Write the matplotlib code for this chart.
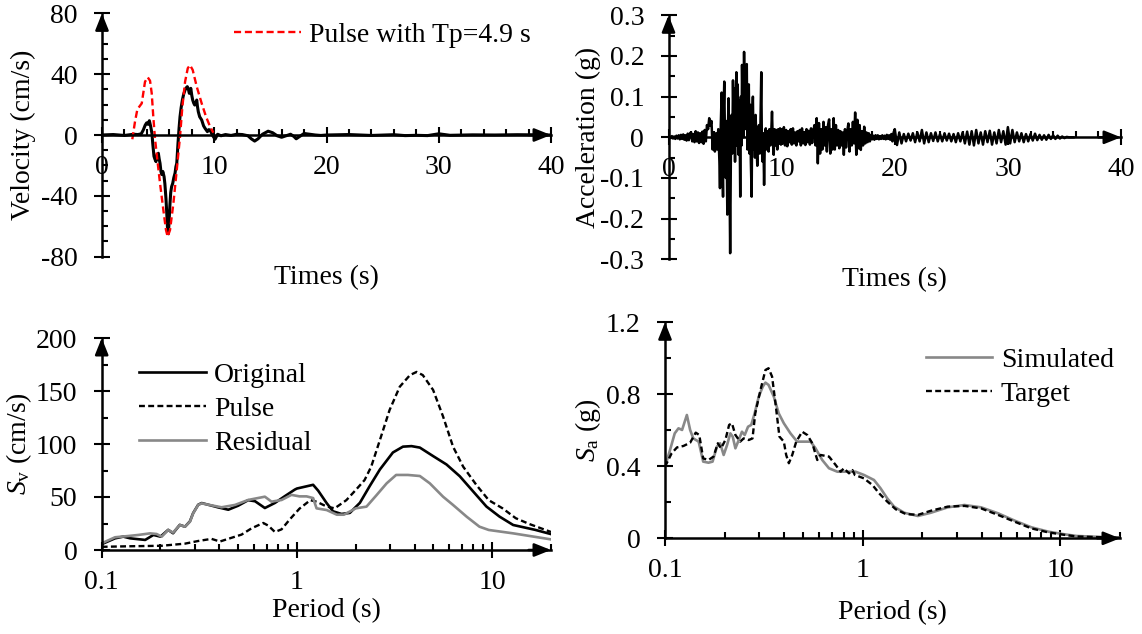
import numpy as np
import matplotlib
matplotlib.use('Agg')
import matplotlib.pyplot as plt
from matplotlib.ticker import MultipleLocator, FuncFormatter, LogLocator, NullFormatter

plt.rcParams['font.family'] = ['Liberation Serif', 'DejaVu Serif']
plt.rcParams['font.size'] = 20
plt.rcParams['axes.unicode_minus'] = False
plt.rcParams['mathtext.fontset'] = 'custom'
plt.rcParams['mathtext.rm'] = 'Liberation Serif'
plt.rcParams['mathtext.it'] = 'Liberation Serif:italic'

# ---- velocity time history (cm/s) ----
vel_time = [0, 1, 2, 2.8, 3.2, 3.5, 3.68, 3.85, 3.98, 4.1, 4.22, 4.34, 4.45, 4.52, 4.63,
            4.72, 4.81, 4.9, 5.02, 5.1, 5.17, 5.25, 5.32, 5.42, 5.53, 5.6, 5.64, 5.7,
            5.77, 5.85, 5.91, 5.97, 6.05, 6.12, 6.2, 6.3, 6.4, 6.51, 6.58, 6.66, 6.77,
            6.86, 6.95, 7.05, 7.16, 7.28, 7.4, 7.5, 7.6, 7.7, 7.78, 7.85, 7.91, 8.0,
            8.08, 8.17, 8.26, 8.35, 8.44, 8.5, 8.58, 8.7, 8.88, 9.05, 9.18, 9.39, 9.5,
            9.63, 9.83, 10.07, 10.3, 10.6, 11, 11.5, 12, 12.5, 13, 13.3, 13.6, 13.9,
            14.3, 14.8, 15.2, 15.6, 16, 16.4, 16.8, 17.1, 17.3, 17.6, 18, 18.5, 19,
            19.5, 20, 22, 24, 26, 27, 28, 29, 30, 31, 33, 35, 37, 40]
vel_record = [0, 0.3, -0.3, 0.5, 0.3, 0.8, 3.3, 6.5, 8, 7, 9.4, 5.5, 1, -5.5, -14,
              -16, -17.5, -13, -12, -16, -18.6, -24, -26, -24, -27.4, -32, -36, -42,
              -51.5, -63.6, -65, -58, -46, -38, -34, -31.8, -28, -25, -21, -18.6, -5.5,
              4, 12, 18, 23, 27, 29.6, 31, 31.8, 30, 27.4, 29, 30.7, 26,
              23, 21, 19.7, 21, 23, 19, 15.3, 12, 9.9, 6, 4.4, 2.2, 3.5,
              3.3, 0, -2.8, 0.5, -0.5, 0.3, -0.3, 0.5, 0.3, -0.5, -2.5, -4, -2.5,
              0.5, 2.5, 1.5, -0.5, -1.5, -0.5, 0.5, -1, -2.5, -1, 1, 0.5, 0,
              -0.3, 0, 0.3, -0.3, 0.2, -0.4, -0.2, -0.4, 0.8, -0.2, 0.1, 0, 0.2, 0]

pulse_time = [2.7, 2.94, 3.15, 3.54, 3.83, 4.07, 4.28, 4.43, 4.57, 4.72, 4.93, 5.17,
              5.46, 5.7, 5.85, 6.06, 6.36, 6.66, 6.95, 7.16, 7.4, 7.64, 7.84, 8.08,
              8.44, 8.88, 9.27, 9.63, 9.92]
pulse_vel = [-2.8, 8.8, 16.9, 20.8, 35, 38, 35.7, 27.4, 12, -2.2, -16.4, -31.8,
             -49, -62.5, -66.9, -62.5, -45, -23, -1.1, 18.6, 35, 43.9, 46, 42.8,
             31.8, 20.8, 12, 5.5, 1.5]

# ---- acceleration time history (g) ----
acc_pre = [0.0, 0.002, -0.002, 0.003, -0.003, 0.002, -0.004, 0.004, -0.003, 0.005,
           -0.005, 0.006, -0.004, 0.007, -0.006, 0.005, -0.008, 0.009, -0.007, 0.01,
           0.012, -0.01, 0.008, -0.012, 0.015, -0.01, 0.012, -0.014, 0.01, -0.012,
           0.014, -0.016, 0.018, -0.01, 0.03, 0.02, 0.047, 0.028, 0.04, -0.03]
strong_time = [4.0, 4.1, 4.2, 4.3, 4.4, 4.5, 4.55, 4.62, 4.7, 4.76, 4.82, 4.87, 4.93,
               5.0, 5.07, 5.12, 5.2, 5.25, 5.31, 5.38, 5.45, 5.52, 5.58, 5.64, 5.7,
               5.76, 5.82, 5.88, 5.94, 6.0, 6.06, 6.12, 6.2, 6.27, 6.34, 6.4, 6.46,
               6.5, 6.56, 6.62, 6.68, 6.74, 6.8, 6.86, 6.92, 6.98, 7.04, 7.1, 7.16,
               7.22, 7.28, 7.35, 7.4, 7.46, 7.52, 7.58, 7.64, 7.7, 7.78, 7.85, 7.92,
               8.0, 8.06, 8.12, 8.2, 8.26, 8.32, 8.38, 8.45, 8.52, 8.6, 8.68, 8.76,
               8.85, 8.92, 9.0, 9.08, 9.15, 9.22, 9.3, 9.38, 9.46, 9.54, 9.62, 9.7,
               9.78, 9.86, 9.94]
strong_acc = [0.01, -0.035, 0.01, -0.03, 0.02, -0.06, -0.125, 0.03, 0.11, -0.05, -0.146,
              0.06, 0.137, -0.02, -0.1, 0.04, -0.19, 0.02, 0.096, -0.05, -0.285, -0.02,
              0.055, -0.04, 0.14, 0.02, 0.12, -0.06, 0.08, 0.16, -0.02, 0.13, -0.043,
              0.09, -0.146, 0.1, -0.02, 0.178, 0.05, 0.0, 0.21, 0.06, 0.15, 0.02, 0.18,
              -0.03, 0.09, 0.13, -0.04, 0.08, -0.06, -0.146, 0.05, 0.1, -0.03, 0.04,
              -0.05, 0.055, -0.02, -0.07, 0.02, 0.03, -0.04, 0.02, 0.16, -0.03, -0.06,
              0.01, -0.117, 0.0, 0.022, -0.03, 0.015, -0.035, 0.02, -0.02, 0.01, 0.063,
              -0.01, -0.043, 0.02, -0.02, 0.018, -0.03, 0.02, -0.015, 0.022, -0.018]
acc_coda = [0.02, -0.015, 0.025, -0.02, 0.018, -0.022, 0.015, -0.012, 0.02, -0.018,
            0.022, -0.015, 0.012, -0.02, 0.015, -0.01, 0.018, -0.02, 0.022, -0.015,
            0.012, -0.019, 0.02, -0.012, 0.016, -0.018, 0.022, -0.014, 0.015, 0.03,
            -0.02, 0.047, -0.064, 0.035, -0.04, 0.02, -0.03, 0.038, -0.02, 0.025,
            -0.035, 0.03, 0.044, -0.04, 0.02, -0.03, 0.047, -0.03, 0.03, -0.02,
            0.018, -0.027, 0.015, -0.02, 0.012, -0.043, 0.02, -0.025, 0.015, 0.034,
            -0.035, 0.02, -0.02, 0.038, -0.015, 0.061, -0.043, 0.043, -0.027, 0.03,
            -0.031, 0.015, -0.02, 0.026, -0.015, 0.012, -0.012, 0.01, -0.01, 0.006,
            -0.005, 0.004, -0.006, 0.005, -0.004, 0.005, -0.005, 0.003, -0.004, 0.005,
            -0.004, 0.004, -0.005, 0.006, -0.004, 0.005, -0.006, 0.008, -0.01, 0.012]
acc_tail = [0.02, -0.019, 0.012, -0.015, 0.008, -0.01, 0.009, -0.008, 0.01, -0.012,
            0.012, -0.01, 0.018, -0.015, 0.012, -0.012, 0.01, -0.009, 0.012, -0.01,
            0.008, -0.01, 0.01, -0.008, 0.009, -0.01, 0.008, -0.012, 0.01, -0.01,
            0.012, -0.015, 0.014, -0.018, 0.015, -0.02, 0.018, -0.015, 0.012, -0.018,
            0.015, -0.012, 0.016, -0.018, 0.012, -0.015, 0.018, -0.012, 0.015, -0.018,
            0.025, -0.015, 0.018, -0.012, 0.012, -0.01, 0.01, -0.012, 0.008, -0.01,
            0.008, -0.008, 0.009, -0.007, 0.006, -0.006, 0.005, -0.006, 0.006, -0.004,
            0.005, -0.004, 0.004, -0.003, 0.002, -0.002, 0.001, 0.0, 0.0, 0.0]

acc_time = np.concatenate([np.arange(len(acc_pre)) * 0.1,
                           strong_time,
                           10.0 + np.arange(len(acc_coda)) * 0.1,
                           20.0 + np.arange(len(acc_tail)) * 0.2])
acc_g = np.concatenate([acc_pre, strong_acc, acc_coda, acc_tail])

# ---- pseudo-velocity spectra (cm/s) ----
orig_T = [0.1, 0.117, 0.129, 0.14, 0.167, 0.184, 0.2, 0.219, 0.232, 0.251, 0.267, 0.283,
          0.294, 0.312, 0.325, 0.351, 0.395, 0.445, 0.5, 0.5625, 0.61, 0.685, 0.771,
          0.867, 0.975, 1.0, 1.21, 1.284, 1.416, 1.53, 1.69, 1.866, 2.1, 2.36, 2.66,
          3.1, 3.49, 3.86, 4.26, 4.98, 5.83, 6.82, 7.98, 9.34, 10.9, 12.8, 16.6, 20]
orig_sv = [5.5, 11, 12.6, 11, 9.5, 14.2, 12.6, 19, 15.8, 23.7, 22, 27, 34.8, 42.7, 44.3,
           42.7, 40.2, 38, 41.8, 47, 46, 39.6, 44.4, 50.8, 57, 58, 61.5, 56, 44.5, 36.5,
           34, 35, 44.5, 60.4, 76, 92, 97.5, 98, 96.6, 88.6, 80.7, 69.6, 55.3, 41, 31.5,
           23.6, 19, 15]
pulse_T = [0.1, 0.137, 0.203, 0.267, 0.312, 0.365, 0.403, 0.462, 0.52, 0.586, 0.672,
           0.713, 0.771, 0.834, 0.92, 1.03, 1.17, 1.26, 1.42, 1.56, 1.79, 2.0, 2.22,
           2.4, 2.66, 2.98, 3.36, 3.79, 4.1, 4.41, 4.98, 5.6, 6.3, 7.1, 8.3, 9.6,
           11.3, 13.2, 15.5, 20]
pulse_sv = [3, 3.5, 4, 6, 8.5, 10.5, 8, 11.5, 14.5, 20.5, 25.5, 23, 17, 19.5, 29, 39,
            47, 45.6, 41, 39.3, 47, 56.6, 66, 78.6, 103.8, 132, 154, 165, 168, 165,
            151, 126, 97.5, 78.6, 61.3, 47, 39.3, 30, 24.5, 17]
resid_T = [0.1, 0.117, 0.137, 0.154, 0.177, 0.191, 0.203, 0.219, 0.232, 0.251, 0.267,
           0.283, 0.294, 0.312, 0.325, 0.356, 0.411, 0.481, 0.5625, 0.685, 0.741,
           0.834, 0.937, 1.03, 1.12, 1.21, 1.26, 1.42, 1.6, 1.74, 2.0, 2.27, 2.56,
           2.88, 3.22, 3.7, 4.26, 4.79, 5.6, 6.3, 7.4, 8.6, 9.6, 12.8, 20]
resid_sv = [6.3, 12, 13.2, 14.2, 15.7, 15.1, 12.6, 18.9, 16.4, 23.6, 22, 26.7, 34.6,
            42.5, 44, 42.5, 40.3, 42.5, 47.2, 50.3, 45.6, 47.2, 52, 50.6, 50.6, 49,
            39.3, 37.7, 33.3, 33.3, 39.3, 40.9, 51.9, 62.9, 70.8, 70.8, 69.8, 62.9,
            50.3, 42.5, 31.4, 22, 18.9, 15.7, 10]

# ---- acceleration spectra (g) ----
sim_T = [0.1, 0.106, 0.112, 0.117, 0.122, 0.129, 0.134, 0.139, 0.148, 0.156, 0.166,
         0.174, 0.183, 0.19, 0.198, 0.206, 0.214, 0.22, 0.227, 0.236, 0.245, 0.253,
         0.263, 0.273, 0.284, 0.298, 0.312, 0.322, 0.334, 0.355, 0.376, 0.399, 0.431,
         0.466, 0.504, 0.545, 0.577, 0.624, 0.675, 0.744, 0.82, 0.92, 1.014, 1.14,
         1.23, 1.33, 1.44, 1.62, 1.9, 2.21, 2.69, 3.27, 3.97, 4.83, 5.87, 7.13, 8.67,
         10.5, 12.05, 20]
sim_sa = [0.398, 0.49, 0.583, 0.611, 0.602, 0.685, 0.602, 0.555, 0.537, 0.426, 0.42,
          0.426, 0.509, 0.528, 0.463, 0.518, 0.583, 0.565, 0.5, 0.546, 0.592, 0.574,
          0.62, 0.63, 0.694, 0.787, 0.842, 0.865, 0.852, 0.787, 0.694, 0.639, 0.583,
          0.537, 0.537, 0.537, 0.5, 0.435, 0.389, 0.37, 0.37, 0.37, 0.352, 0.324,
          0.278, 0.222, 0.176, 0.142, 0.124, 0.142, 0.172, 0.185, 0.172, 0.139, 0.098,
          0.061, 0.037, 0.022, 0.013, 0.003]
target_T = [0.1, 0.108, 0.115, 0.124, 0.134, 0.143, 0.149, 0.156, 0.166, 0.176, 0.185,
            0.192, 0.202, 0.211, 0.218, 0.227, 0.24, 0.25, 0.265, 0.277, 0.286, 0.304,
            0.322, 0.334, 0.348, 0.362, 0.379, 0.399, 0.41, 0.423, 0.44, 0.461, 0.494,
            0.524, 0.556, 0.589, 0.612, 0.675, 0.73, 0.773, 0.803, 0.852, 0.887, 0.912,
            1.014, 1.12, 1.21, 1.33, 1.47, 1.65, 1.9, 2.21, 2.69, 3.27, 3.97, 4.83,
            5.87, 7.13, 8.67, 10.5, 12.05, 20]
target_sa = [0.398, 0.472, 0.505, 0.513, 0.531, 0.587, 0.574, 0.444, 0.435, 0.454, 0.528,
             0.5, 0.546, 0.63, 0.639, 0.574, 0.537, 0.555, 0.546, 0.555, 0.694, 0.824,
             0.935, 0.945, 0.898, 0.75, 0.565, 0.537, 0.463, 0.417, 0.463, 0.537, 0.592,
             0.574, 0.528, 0.435, 0.463, 0.454, 0.407, 0.37, 0.389, 0.361, 0.379, 0.352,
             0.333, 0.296, 0.25, 0.204, 0.161, 0.135, 0.13, 0.153, 0.176, 0.18, 0.166,
             0.13, 0.092, 0.055, 0.033, 0.019, 0.01, 0.003]

W, H = 1142, 634
fig = plt.figure(figsize=(W / 100, H / 100), dpi=100)


def px_axes(x0, x1, ytop, ybot):
    return fig.add_axes([x0 / W, 1 - ybot / H, (x1 - x0) / W, (ybot - ytop) / H])


fmt = FuncFormatter(lambda v, p: '{:g}'.format(v))


def style(ax, xmajor=None, xminor=None, ymajor=None, yminor=None, log=False):
    for s in ['top', 'right']:
        ax.spines[s].set_visible(False)
    ax.spines['bottom'].set_position(('data', 0))
    for s in ['left', 'bottom']:
        ax.spines[s].set_linewidth(1.8)
    if log:
        ax.set_xscale('log')
        ax.xaxis.set_major_locator(LogLocator(base=10))
        ax.xaxis.set_minor_locator(LogLocator(base=10, subs=np.arange(2, 10)))
        ax.xaxis.set_minor_formatter(NullFormatter())
    else:
        ax.xaxis.set_major_locator(MultipleLocator(xmajor))
        ax.xaxis.set_minor_locator(MultipleLocator(xminor))
    ax.yaxis.set_major_locator(MultipleLocator(ymajor))
    ax.yaxis.set_minor_locator(MultipleLocator(yminor))
    ax.xaxis.set_major_formatter(fmt)
    ax.yaxis.set_major_formatter(fmt)
    ax.tick_params(which='major', direction='inout', length=11, width=1.5)
    ax.tick_params(axis='x', which='major', pad=9)
    ax.tick_params(axis='y', which='major', pad=12)
    ax.tick_params(which='minor', direction='in', length=4, width=1.5)
    arrow = dict(arrowstyle='-|>,head_length=0.5,head_width=0.2', mutation_scale=20,
                 color='k', lw=1.8, shrinkA=0, shrinkB=0)
    ax.annotate('', xy=(1, 0), xytext=(0.95, 0), xycoords=ax.get_yaxis_transform(),
                textcoords=ax.get_yaxis_transform(), arrowprops=arrow, annotation_clip=False)
    ax.annotate('', xy=(0, 1), xytext=(0, 0.93), xycoords='axes fraction',
                arrowprops=arrow, annotation_clip=False)


leg_opts = dict(loc='center left', frameon=False, borderpad=0, borderaxespad=0,
                handlelength=2.4, handletextpad=0.3, labelspacing=0.3)

# top left: velocity
ax1 = px_axes(102, 551, 13.4, 256.6)
ax1.plot(vel_time, vel_record, color='black', lw=2.2)
ax1.plot(pulse_time, pulse_vel, color='#ff0000', lw=1.7, ls=(0, (3, 1.6)),
         label='Pulse with Tp=4.9 s')
ax1.set_xlim(0, 40)
ax1.set_ylim(-80, 80)
style(ax1, 10, 2, 40, 10)
ax1.set_xlabel('Times (s)', va='center')
ax1.xaxis.set_label_coords(0.5, -0.088)
ax1.set_ylabel('Velocity (cm/s)', va='center')
ax1.yaxis.set_label_coords(-0.175, 0.5)
ax1.legend(bbox_to_anchor=(0.294, 0.911), **leg_opts)

# top right: acceleration
ax2 = px_axes(668.5, 1121, 15.3, 259.3)
ax2.plot(acc_time, acc_g, color='black', lw=1.8)
ax2.set_xlim(0, 40)
ax2.set_ylim(-0.3, 0.3)
style(ax2, 10, 2, 0.1, 0.05)
ax2.set_xlabel('Times (s)', va='center')
ax2.xaxis.set_label_coords(0.5, -0.083)
ax2.set_ylabel('Acceleration (g)', va='center')
ax2.yaxis.set_label_coords(-0.178, 0.5)

# bottom left: Sv
ax3 = px_axes(101.7, 551, 338, 550)
ax3.plot(orig_T, orig_sv, color='black', lw=1.9, label='Original')
ax3.plot(pulse_T, pulse_sv, color='black', lw=1.7, ls=(0, (2.5, 1.4)), label='Pulse')
ax3.plot(resid_T, resid_sv, color='#888888', lw=1.9, label='Residual')
ax3.set_xlim(0.1, 20)
ax3.set_ylim(0, 200)
style(ax3, ymajor=50, yminor=25, log=True)
ax3.set_xlabel('Period (s)', va='center')
ax3.xaxis.set_label_coords(0.5, -0.284)
ax3.set_ylabel(r'$S_\mathrm{v}$ (cm/s)', va='center')
ax3.yaxis.set_label_coords(-0.183, 0.5)
ax3.legend(bbox_to_anchor=(0.083, 0.665), **leg_opts)

# bottom right: Sa
ax4 = px_axes(665, 1120, 322.3, 538.3)
ax4.plot(sim_T, sim_sa, color='#888888', lw=1.9, label='Simulated')
ax4.plot(target_T, target_sa, color='black', lw=1.7, ls=(0, (2.5, 1.4)), label='Target')
ax4.set_xlim(0.1, 20)
ax4.set_ylim(0, 1.2)
style(ax4, ymajor=0.4, yminor=0.2, log=True)
ax4.set_xlabel('Period (s)', va='center')
ax4.xaxis.set_label_coords(0.5, -0.343)
ax4.set_ylabel(r'$S_\mathrm{a}$ (g)', va='center')
ax4.yaxis.set_label_coords(-0.169, 0.5)
ax4.legend(bbox_to_anchor=(0.573, 0.747), **leg_opts)

fig.savefig('out.png', dpi=100)
